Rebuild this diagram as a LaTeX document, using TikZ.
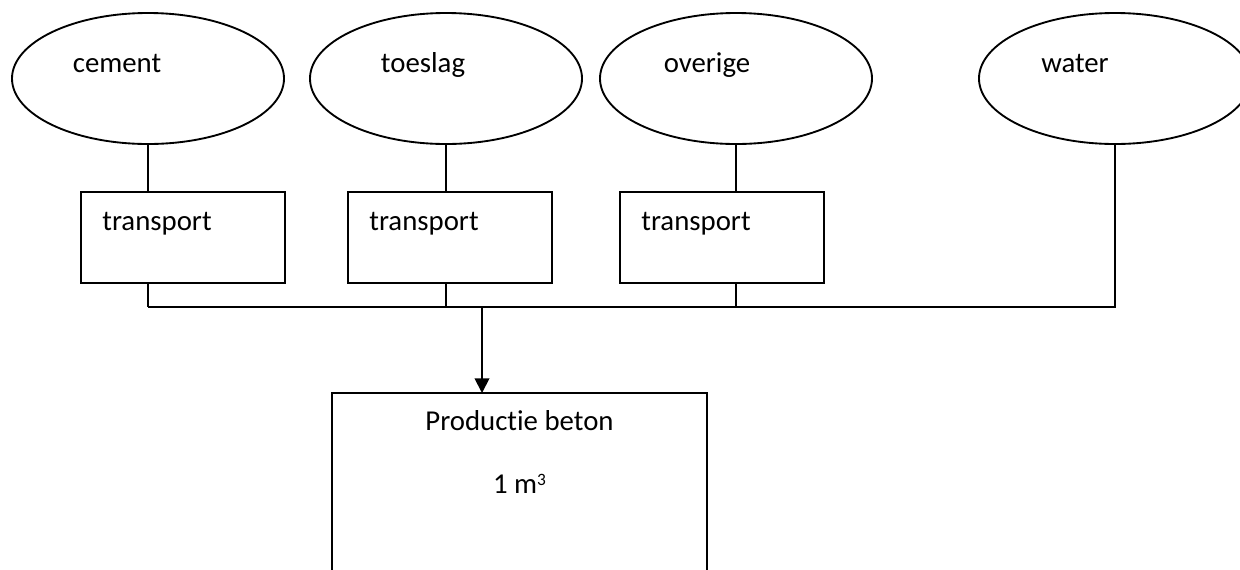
\documentclass[tikz,border=0pt]{standalone}
\usepackage{fontspec}
\setmainfont{Carlito}[Ligatures=NoCommon]
\usetikzlibrary{shapes.geometric,arrows.meta}
\begin{document}
\begin{tikzpicture}[x=0.75pt,y=-0.75pt,
  ln/.style={line width=1.4pt,black},
  oval/.style={ln,draw,ellipse,minimum width=272*0.75pt,minimum height=131*0.75pt,inner sep=0pt},
  tbox/.style={ln,draw,rectangle,minimum width=204*0.75pt,minimum height=91*0.75pt,inner sep=0pt},
  txt/.style={font=\fontsize{21.6}{26}\selectfont,inner sep=0pt,anchor=base}
]
\clip (0,0) rectangle (1240,569);
\fill[white] (0,0) rectangle (1240,569);
% ellipses
\node[oval] (e1) at (148,78.5) {};
\node[oval] (e2) at (446,78.5) {};
\node[oval] (e3) at (736,78.5) {};
\node[oval] (e4) at (1115,78.5) {};
\node[txt] (t1) at (117,72) {cement};
\node[txt] (t2) at (423,72) {toeslag};
\node[txt] (t3) at (707,72) {overige};
\node[txt] (t4) at (1075,72) {water};
% transport boxes
\node[tbox] (b1) at (183,237.5) {};
\node[tbox] (b2) at (450,237.5) {};
\node[tbox] (b3) at (722,237.5) {};
\node[txt] (bt1) at (157,230) {transport};
\node[txt] (bt2) at (424,230) {transport};
\node[txt] (bt3) at (696,230) {transport};
% bottom box
\coordinate (pTL) at (332,393);
\coordinate (pBR) at (707,600);
\draw[ln] (pTL) rectangle (pBR);
\node[txt] (p1) at (519.5,430) {Productie beton};
\node[txt] (p2) at (519.5,493) {1 m\raisebox{6pt}{\fontsize{13}{15}\selectfont 3}};
% bus
\coordinate (bL) at (148,307);
\coordinate (bR) at (1115,307);
\coordinate (bA) at (482,307);
\coordinate (pT) at (482,393);
\draw[ln] (e1.south) -- (e1.south |- b1.north);
\draw[ln] (e2.south) -- (e2.south |- b2.north);
\draw[ln] (e3.south) -- (e3.south |- b3.north);
\draw[ln] (e1.south |- b1.south) -- (bL);
\draw[ln] (e2.south |- b2.south) -- (e2.south |- bL);
\draw[ln] (e3.south |- b3.south) -- (e3.south |- bL);
\draw[ln] (e4.south) -- (bR) -- (bL);
\draw[ln,-{Triangle[width=11pt,length=11pt]}] (bA) -- (pT);
\end{tikzpicture}
\end{document}
